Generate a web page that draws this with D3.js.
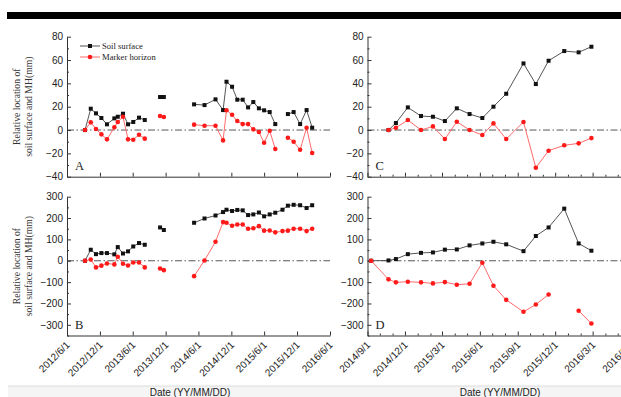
<!DOCTYPE html>
<html>
<head>
<meta charset="utf-8">
<script src="https://cdn.jsdelivr.net/npm/d3@7"></script>
<style>
  body { margin: 0; background: #fff; }
  svg { display: block; }
</style>
</head>
<body>
<svg id="chart" width="621" height="397"></svg>
<script>
// Survey dates, sites A and B
const abDates = ["2012-09-09","2012-10-11","2012-11-09","2012-12-09","2013-01-09","2013-02-19","2013-03-10","2013-04-08","2013-05-06","2013-06-04","2013-07-06","2013-08-07","2013-10-31","2013-11-21","2014-05-08","2014-07-05","2014-09-04","2014-10-16","2014-11-04","2014-12-05","2015-01-03","2015-02-02","2015-03-04","2015-04-02","2015-05-03","2015-06-01","2015-07-02","2015-08-02","2015-09-11","2015-10-11","2015-11-12","2015-12-18","2016-01-23","2016-02-23"];
// A new line segment starts at these dates (no surveys in between)
const abBreaks = ["2013-10-31","2014-05-08"];

const soilA   = [0,18.3,14.3,10.3,4.9,10,11.4,14,4.9,6.9,10.6,8.6, 28.3,28.3, 22,21.4,26.3,17.1,41.4,37.1,26,26,19.4,24,18.6,16.9,15.4,5.1,null,13.7,15.4,5.1,17.1,2];
const markerA = [0,6.6,0.9,-3.7,-8,2.3,6.9,11.4,-8,-8.3,-4,-7.4, 12,11.2, 4.6,3.7,3.7,-8.9,16.9,13.1,7.7,5.1,5.1,0.6,-1.7,-10.9,-0.6,-16.3,null,-6.6,-10,-16.9,2,-19.7];
const soilB   = [0,51.6,31,36,36,30,64,34,44,67,83,75, 156,144, 178,198,212,228,239,233,238,236,214,217,226,208,217,225,239,258,262,260,247,260];
const markerB = [0,6,-31,-23,-12.5,-17,19,-14,-22,-8,-8,-31, -36,-44, -72,1.5,89,181,178,164,170,170,150,152,162,141,142,133,139,141,150,150,139,150];

// Survey dates, sites C and D
const cdDates = ["2014-09-10","2014-10-22","2014-11-09","2014-12-08","2015-01-09","2015-02-07","2015-03-08","2015-04-06","2015-05-07","2015-06-07","2015-07-04","2015-08-04","2015-09-15","2015-10-15","2015-11-15","2015-12-23","2016-01-27","2016-02-27"];
const cdBreaks = [];

const soilC   = [null,0,6,19.4,12,11.4,7.7,18.6,13.7,10.3,20,31.1,57.1,39.4,59.4,67.7,66.6,71.4];
const markerC = [null,0,2,8.6,0,3.1,-7.7,7.1,0,-4.3,5.7,-7.7,6.9,-32.3,-17.7,-13.1,-11.4,-6.9];
const soilD   = [0,1.5,8,31,37,39,52,53,72,81,89,77,45,116,156,244,81,47];
const markerD = [0,-87,-101,-98,-101,-106,-100,-112,-108,-9,-117,-183,-239,-205,-158,null,-234,-294];

// Axis ticks
const abTicks = ["2012-06-01","2012-12-01","2013-06-01","2013-12-01","2014-06-01","2014-12-01","2015-06-01","2015-12-01","2016-06-01"];
const cdTicks = ["2014-09-01","2014-12-01","2015-03-01","2015-06-01","2015-09-01","2015-12-01","2016-03-01","2016-06-01"];
const cdMinorTicks = ["2014-10-01","2014-11-01","2015-01-01","2015-02-01","2015-04-01","2015-05-01","2015-07-01","2015-08-01","2015-10-01","2015-11-01","2016-01-01","2016-02-01","2016-04-01","2016-05-01"];
const smallYTicks = [-40,-20,0,20,40,60,80];
const smallYMinor = [-30,-10,10,30,50,70];
const largeYTicks = [-300,-200,-100,0,100,200,300];
const largeYMinor = [-350,-250,-150,-50,50,150,250];

const legendLabels = ["Soil surface","Marker horizon"];
const yTitle = ["Relative location of","soil surface and MH(mm)"];
const xTitle = "Date (YY/MM/DD)";

const parse = d3.timeParse("%Y-%m-%d");
const fmtDate = d => `${d.getFullYear()}/${d.getMonth() + 1}/${d.getDate()}`;
const sans = "'Liberation Sans', Arial, sans-serif";
const serif = "'Liberation Serif', 'Times New Roman', serif";
const axisColor = "#333";
const soilColor = "#111";
const soilLine = "#555";
const markColor = "#ff1a1a";
const markLine = "#ff6b6b";

const svg = d3.select("#chart");

// banner strip along the top
svg.append("rect").attr("x", 7).attr("y", 12).attr("width", 614).attr("height", 7).attr("fill", "#000");
// pale footer strip
svg.append("rect").attr("x", 8).attr("y", 386).attr("width", 613).attr("height", 11).attr("fill", "#f5f5f5");
svg.append("line").attr("x1", 8).attr("x2", 621).attr("y1", 386).attr("y2", 386).attr("stroke", "#dcdcdc");

function drawPanel(o) {
  const x = d3.scaleTime().domain(o.xDomain.map(parse)).range([o.x0, o.x1]);
  const y = d3.scaleLinear().domain(o.yDomain).range([o.yBot, o.yTop]);
  const g = svg.append("g");

  // zero reference
  g.append("line")
    .attr("x1", o.x0).attr("x2", o.x1)
    .attr("y1", y(0)).attr("y2", y(0))
    .attr("stroke", "#444").attr("stroke-width", 0.9)
    .attr("stroke-dasharray", "7,2.5,1.5,2.5");

  // y axis
  g.append("g").attr("transform", `translate(${o.x0},0)`)
    .call(d3.axisLeft(y).tickValues(o.yTicks).tickSizeInner(-4).tickSizeOuter(0).tickPadding(4));
  g.append("g").attr("transform", `translate(${o.x0},0)`)
    .call(d3.axisLeft(y).tickValues(o.yMinor).tickSize(-2).tickFormat(""))
    .call(s => s.select(".domain").remove());

  // x axis
  const xa = g.append("g").attr("transform", `translate(0,${o.yBot})`)
    .call(d3.axisBottom(x).tickValues(o.xTicks.map(parse)).tickSizeInner(-4).tickSizeOuter(0)
      .tickFormat(o.xLabels ? fmtDate : ""));
  if (o.xMinor) {
    g.append("g").attr("transform", `translate(0,${o.yBot})`)
      .call(d3.axisBottom(x).tickValues(o.xMinor.map(parse)).tickSize(-2).tickFormat(""))
      .call(s => s.select(".domain").remove());
  }
  if (o.xLabels) {
    xa.selectAll("text")
      .attr("y", 0).attr("dy", 0)
      .attr("text-anchor", "end")
      .attr("transform", "translate(3,10) rotate(-45)");
  }
  g.selectAll(".domain, .tick line").attr("stroke", axisColor).attr("stroke-width", 1);
  g.selectAll(".tick text").attr("fill", "#222").style("font-family", sans).style("font-size", "10px");

  // series points with segment ids
  let seg = 0;
  const pts = o.dates.map((ds, i) => {
    if (o.breaks.includes(ds)) seg++;
    return { date: parse(ds), seg, soil: o.soil[i], marker: o.marker[i] };
  });
  const segs = d3.groups(pts, d => d.seg).map(d => d[1]);

  function series(key, lineColor, dotColor, shape) {
    const line = d3.line().defined(d => d[key] != null).x(d => x(d.date)).y(d => y(d[key]));
    g.append("g").selectAll("path").data(segs).join("path")
      .attr("d", line).attr("fill", "none").attr("stroke", lineColor).attr("stroke-width", 1);
    const valid = pts.filter(d => d[key] != null);
    if (shape === "square") {
      g.append("g").selectAll("rect").data(valid).join("rect")
        .attr("x", d => x(d.date) - 2).attr("y", d => y(d[key]) - 2)
        .attr("width", 4).attr("height", 4).attr("fill", dotColor);
    } else {
      g.append("g").selectAll("circle").data(valid).join("circle")
        .attr("cx", d => x(d.date)).attr("cy", d => y(d[key])).attr("r", 2.3).attr("fill", dotColor);
    }
  }
  series("soil", soilLine, soilColor, "square");
  series("marker", markLine, markColor, "circle");

  // panel letter
  g.append("text").attr("x", o.x0 + 8).attr("y", o.yBot - 7)
    .attr("fill", "#222").style("font-family", serif).style("font-size", "12.5px").text(o.letter);

  if (o.legend) {
    const lg = g.append("g").style("font-family", serif).style("font-size", "8.6px");
    [[soilLine, soilColor, "square"], [markLine, markColor, "circle"]].forEach((s, i) => {
      const ly = 46 + i * 11;
      lg.append("line").attr("x1", 80).attr("x2", 100).attr("y1", ly).attr("y2", ly)
        .attr("stroke", s[0]).attr("stroke-width", 1);
      if (s[2] === "square") lg.append("rect").attr("x", 88).attr("y", ly - 2).attr("width", 4).attr("height", 4).attr("fill", s[1]);
      else lg.append("circle").attr("cx", 90).attr("cy", ly).attr("r", 2.3).attr("fill", s[1]);
      lg.append("text").attr("x", 102).attr("y", ly + 3).attr("fill", "#222").text(legendLabels[i]);
    });
  }

  if (o.yTitle) {
    const cy = (o.yTop + o.yBot) / 2;
    const t = g.append("text").attr("transform", `translate(20,${cy}) rotate(-90)`)
      .attr("text-anchor", "middle").attr("fill", "#333")
      .style("font-family", serif).style("font-size", "9.7px");
    t.append("tspan").attr("x", 0).attr("dy", 0).text(yTitle[0]);
    t.append("tspan").attr("x", 0).attr("dy", "1.25em").text(yTitle[1]);
  }
}

const topRow = { yTop: 36.7, yBot: 176.7, yDomain: [-40, 80], yTicks: smallYTicks, yMinor: smallYMinor };
const bottomRow = { yTop: 196.7, yBot: 335.5, yDomain: [-350, 300], yTicks: largeYTicks, yMinor: largeYMinor };
const leftCol = { x0: 67, x1: 330, xDomain: ["2012-06-01", "2016-06-01"], xTicks: abTicks, dates: abDates, breaks: abBreaks, yTitle: true };
const rightCol = { x0: 367.5, x1: 630.5, xDomain: ["2014-09-01", "2016-06-01"], xTicks: cdTicks, xMinor: cdMinorTicks, dates: cdDates, breaks: cdBreaks };

drawPanel({ ...topRow, ...leftCol, soil: soilA, marker: markerA, letter: "A", legend: true, xLabels: false });
drawPanel({ ...bottomRow, ...leftCol, soil: soilB, marker: markerB, letter: "B", xLabels: true });
drawPanel({ ...topRow, ...rightCol, soil: soilC, marker: markerC, letter: "C", xLabels: false });
drawPanel({ ...bottomRow, ...rightCol, soil: soilD, marker: markerD, letter: "D", xLabels: true });

// x axis titles
[190, 500].forEach(cx => {
  svg.append("text").attr("x", cx).attr("y", 395.5).attr("text-anchor", "middle")
    .attr("fill", "#222").style("font-family", sans).style("font-size", "10px").text(xTitle);
});
</script>
</body>
</html>
